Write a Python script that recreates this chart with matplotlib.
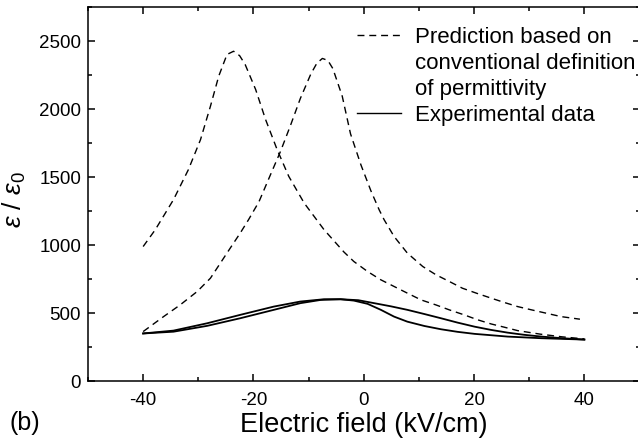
import numpy as np
import matplotlib.pyplot as plt
from matplotlib.lines import Line2D
from matplotlib.ticker import MultipleLocator

plt.rcParams['font.family'] = ['Liberation Sans', 'DejaVu Sans']
plt.rcParams['axes.unicode_minus'] = False
plt.rcParams['mathtext.fontset'] = 'custom'
plt.rcParams['mathtext.rm'] = 'Liberation Sans'
plt.rcParams['mathtext.it'] = 'Liberation Sans:italic'

# prediction, peak on the negative side
pred_a_field = [-40, -37.8, -34.5, -31.8, -29.6, -27.8, -26.3, -24.8, -23.6, -22.5, -21.5,
                -19.6, -17.8, -15.7, -13.6, -10.8, -7.2, -3.6, -1.8, 0.7, 3.1, 5.5, 7.9,
                10.4, 13.1, 15.5, 18.2, 20.7, 23.1, 25.5, 27.9, 32, 36, 40]
pred_a_eps = [990, 1114, 1335, 1556, 1777, 2023, 2244, 2404, 2428, 2395, 2330,
              2146, 1925, 1703, 1507, 1310, 1114, 950, 880, 806, 745, 696, 647,
              597, 560, 524, 487, 450, 420, 396, 371, 345, 325, 310]

# prediction, second branch
pred_b_field = [-40, -36.3, -33.3, -30.2, -27.8, -26, -24.2, -22.4, -20.9, -19, -16.9,
                -15.1, -13.3, -11.5, -9.6, -8.5, -7.5, -6.5, -5.6, -3.9, -2.4, -0.5, 1.3,
                2.8, 3.7, 5.5, 7.9, 10.7, 13.1, 15.5, 17.9, 20.4, 23.1, 25.5, 27.9, 30.4,
                33.1, 35.8, 39.2]
pred_b_eps = [364, 474, 560, 659, 757, 868, 979, 1089, 1187, 1320, 1520,
              1690, 1880, 2080, 2260, 2340, 2375, 2360, 2300, 2097, 1820, 1590, 1400,
              1260, 1187, 1064, 942, 843, 782, 733, 683, 647, 610, 578, 548, 524,
              499, 474, 455]

# measured loop, two sweeps
exp_1_field = [-40, -34.5, -28.4, -22.4, -16.3, -11.5, -7.2, -4.2, -1.8, 0.7, 3.1, 5.5,
               7.9, 11, 14, 17, 20.1, 26.1, 32.2, 40]
exp_1_eps = [350, 371, 425, 487, 548, 585, 602, 602, 592, 568, 524, 474,
             437, 405, 381, 362, 347, 327, 315, 305]
exp_2_field = [-40, -34.5, -28.4, -22.4, -16.3, -11.5, -7.8, -4.2, -1, 1.9, 4.9, 7.9,
               11, 14, 17, 20.1, 23.1, 26.1, 29.1, 32.2, 36, 40]
exp_2_eps = [350, 363, 406, 462, 524, 573, 597, 602, 595, 573, 550, 524,
             493, 462, 430, 400, 376, 356, 340, 327, 315, 305]

fig = plt.figure(figsize=(6.38, 4.45), dpi=100)
ax = fig.add_axes([88 / 638, 1 - 381 / 445, (639.5 - 88) / 638, (381 - 7.5) / 445])

dash = (0, (5, 3.5))
ax.plot(pred_a_field, pred_a_eps, color='black', lw=1.0, linestyle=dash)
ax.plot(pred_b_field, pred_b_eps, color='black', lw=1.0, linestyle=dash)
ax.plot(exp_1_field, exp_1_eps, color='black', lw=1.3)
ax.plot(exp_2_field, exp_2_eps, color='black', lw=1.3)

ax.set_xlim(-50, 50)
ax.set_ylim(0, 2750)
ax.xaxis.set_major_locator(MultipleLocator(20))
ax.xaxis.set_minor_locator(MultipleLocator(10))
ax.yaxis.set_major_locator(MultipleLocator(500))
ax.yaxis.set_minor_locator(MultipleLocator(250))
ax.set_xticks([-40, -20, 0, 20, 40])
ax.tick_params(which='both', direction='in', top=True, right=True, width=1.1)
ax.tick_params(which='major', length=5, labelsize=13.5)
ax.tick_params(which='minor', length=3)
ax.tick_params(axis='x', pad=8)
ax.tick_params(axis='y', pad=5)
for s in ax.spines.values():
    s.set_linewidth(1.1)

ax.set_xlabel('Electric field (kV/cm)', fontsize=19.5, labelpad=2)
ax.set_ylabel(r'$\varepsilon$ / $\varepsilon_0$', fontsize=19)
ax.yaxis.set_label_coords(-0.108, 0.485)

handles = [Line2D([], [], color='black', lw=1.0, linestyle=dash),
           Line2D([], [], linestyle='none'),
           Line2D([], [], linestyle='none'),
           Line2D([], [], color='black', lw=1.0)]
labels = ['Prediction based on', 'conventional definition', 'of permittivity',
          'Experimental data']
ax.legend(handles, labels, loc='upper left', bbox_to_anchor=(357 / 638, 1 - 27 / 445),
          bbox_transform=fig.transFigure, frameon=False, fontsize=16,
          labelspacing=0.22, handlelength=2.0, handletextpad=0.6,
          borderpad=0, borderaxespad=0)

fig.text(25 / 638, 1 - 423 / 445, '(b)', ha='center', va='center', fontsize=18)

fig.savefig('out.png', dpi=100)
